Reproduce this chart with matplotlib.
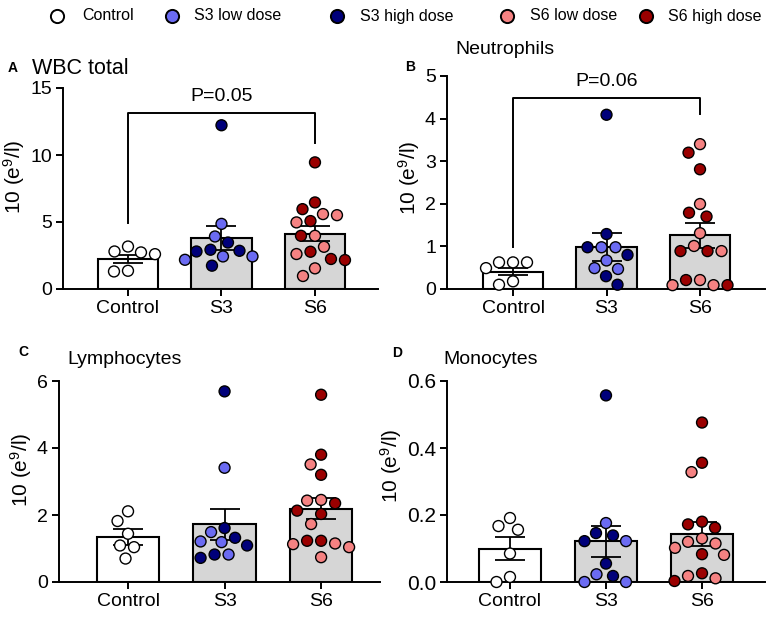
import numpy as np
import matplotlib
matplotlib.use("Agg")
import matplotlib.pyplot as plt

plt.rcParams['font.family'] = ['Liberation Sans', 'DejaVu Sans']
plt.rcParams['mathtext.fontset'] = 'custom'
plt.rcParams['mathtext.rm'] = 'Liberation Sans'
plt.rcParams['mathtext.it'] = 'Liberation Sans:italic'

groups = ["Control", "S3", "S6"]
ylabel = "10 (e$^{9}$/l)"

# ---- A: WBC total
wbc_ctrl = [3.17, 2.80, 2.73, 2.60, 1.36, 1.31]
wbc_s3_low = [4.86, 3.92, 2.43, 2.43, 2.18]
wbc_s3_high = [12.22, 3.47, 2.93, 2.80, 2.85, 1.74]
wbc_s6_low = [5.59, 5.51, 4.97, 3.97, 3.15, 2.61, 1.54, 0.97]
wbc_s6_high = [9.45, 6.46, 5.96, 5.07, 3.97, 2.78, 2.16, 2.24]
wbc_mean = [2.26, 3.79, 4.12]
wbc_sem = [0.30, 0.90, 0.56]
wbc_bracket = [4.9, 13.17, 10.9]   # left leg end, bar height, right leg end
wbc_p = "P=0.05"

# ---- B: Neutrophils
neu_ctrl = [0.625, 0.49, 0.625, 0.625, 0.10, 0.18]
neu_s3_low = [0.98, 0.98, 0.67, 0.47, 0.49]
neu_s3_high = [4.09, 1.29, 0.98, 0.80, 0.30, 0.10]
neu_s6_low = [3.40, 1.995, 1.31, 1.01, 0.89, 0.09, 0.21, 0.09]
neu_s6_high = [3.20, 2.81, 1.79, 1.70, 0.89, 0.89, 0.09, 0.21]
neu_mean = [0.41, 0.98, 1.26]
neu_sem = [0.09, 0.33, 0.30]
neu_bracket = [0.99, 4.49, 4.10]
neu_p = "P=0.06"

# ---- C: Lymphocytes
lym_ctrl = [2.11, 1.82, 1.44, 1.09, 1.04, 0.70]
lym_s3_low = [3.41, 1.49, 1.21, 1.19, 0.82]
lym_s3_high = [5.69, 1.61, 1.32, 1.09, 0.72, 0.82]
lym_s6_low = [3.51, 2.45, 2.43, 1.73, 1.15, 1.04, 1.13, 0.74]
lym_s6_high = [5.59, 3.80, 3.20, 2.35, 2.13, 2.03, 1.23, 1.23]
lym_mean = [1.34, 1.72, 2.19]
lym_sem = [0.23, 0.46, 0.32]

# ---- D: Monocytes
mono_ctrl = [0.167, 0.191, 0.156, 0.085, 0.0, 0.015]
mono_s3_low = [0.176, 0.122, 0.023, 0.0, 0.0]
mono_s3_high = [0.557, 0.146, 0.139, 0.122, 0.055, 0.018]
mono_s6_low = [0.328, 0.130, 0.120, 0.115, 0.102, 0.081, 0.011, 0.018]
mono_s6_high = [0.476, 0.356, 0.172, 0.180, 0.162, 0.083, 0.026, 0.003]
mono_mean = [0.100, 0.121, 0.143]
mono_sem = [0.034, 0.047, 0.035]

c_ctrl = "white"
c_s3_low = "#6b6bf2"
c_s3_high = "#00007a"
c_s6_low = "#f58282"
c_s6_high = "#9a0000"
bar_colors = ["white", "#d6d6d6", "#d6d6d6"]

DIAM = 14.0  # px, min centre distance in swarm


def swarm(ax, xc, values):
    # simple greedy beeswarm in pixel space, returns x positions in data units
    pts = ax.transData.transform([(xc, v) for v in values])
    ys = pts[:, 1]
    x0 = pts[0, 0]
    order = np.argsort(-ys)
    placed = []
    offs = np.zeros(len(values))
    for i in order:
        found = None
        for step in np.arange(0, 200, 0.5):
            cands = [0.0] if step == 0 else [-step, step]
            for c in cands:
                if all((c - px) ** 2 + (ys[i] - py) ** 2 >= DIAM ** 2 for px, py in placed):
                    found = c
                    break
            if found is not None:
                break
        placed.append((found, ys[i]))
        offs[i] = found
    inv = ax.transData.inverted()
    return [inv.transform((x0 + o, y))[0] for o, y in zip(offs, ys)]


def panel(ax, ctrl, s3_low, s3_high, s6_low, s6_high, mean, sem, ymax, yticks, xlim, fmt,
          ytick_size=14):
    x = np.arange(len(groups))
    ax.set_xlim(*xlim)
    ax.set_ylim(0, ymax)
    ax.bar(x, mean, width=0.65, color=bar_colors, edgecolor="black", linewidth=1.5, zorder=2)
    ax.errorbar(x, mean, yerr=sem, fmt="none", ecolor="black", elinewidth=1.3,
                capsize=11, capthick=1.3, zorder=3)
    sets = [
        (0, [ctrl], [c_ctrl]),
        (1, [s3_low, s3_high], [c_s3_low, c_s3_high]),
        (2, [s6_low, s6_high], [c_s6_low, c_s6_high]),
    ]
    for xc, lists, cols in sets:
        vals = [v for l in lists for v in l]
        colors = [c for l, c in zip(lists, cols) for _ in l]
        xs = swarm(ax, xc, vals)
        ax.scatter(xs, vals, s=62, c=colors, edgecolors="black", linewidths=1.0,
                   zorder=4, clip_on=False)
    for s in ["top", "right"]:
        ax.spines[s].set_visible(False)
    for s in ["left", "bottom"]:
        ax.spines[s].set_linewidth(1.4)
    ax.set_xticks(x)
    ax.set_xticklabels(groups)
    ax.set_yticks(yticks)
    ax.set_yticklabels([fmt.format(t) for t in yticks])
    ax.tick_params(direction="out", length=5, width=1.4, labelsize=14, pad=3)
    ax.tick_params(axis="y", labelsize=ytick_size)
    ax.set_ylabel(ylabel, fontsize=15)


def place_ylabel(ax, yfrac, gap_px=3):
    # right edge of the label just left of the tick labels, shifted vertically
    r = fig.canvas.get_renderer()
    left = min(t.get_window_extent(r).x0 for t in ax.get_yticklabels())
    ax_bb = ax.get_window_extent(r)
    xfrac = (left - gap_px - ax_bb.x0) / ax_bb.width
    ax.yaxis.set_label_coords(xfrac, yfrac)


def bracket(ax, br, text):
    ax.plot([0, 0, 2, 2], [br[0], br[1], br[1], br[2]], color="black", lw=1.4,
            clip_on=False, zorder=5)
    ax.text(1, br[1] + (ax.get_ylim()[1]) * 0.035, text, ha="center", va="bottom", fontsize=14)


fig = plt.figure(figsize=(7.7, 6.25), dpi=100)
W, H = 770.0, 625.0


def px_axes(l, t, r, b):
    return fig.add_axes([l / W, 1 - b / H, (r - l) / W, (b - t) / H])


axA = px_axes(63, 88, 378, 289)
axB = px_axes(447, 76, 765, 289)
axC = px_axes(59, 381, 380, 582)
axD = px_axes(447, 381, 765, 582)

panel(axA, wbc_ctrl, wbc_s3_low, wbc_s3_high, wbc_s6_low, wbc_s6_high, wbc_mean, wbc_sem,
      15, [0, 5, 10, 15], (-0.695, 2.674), "{:g}")
panel(axB, neu_ctrl, neu_s3_low, neu_s3_high, neu_s6_low, neu_s6_high, neu_mean, neu_sem,
      5, [0, 1, 2, 3, 4, 5], (-0.706, 2.695), "{:g}")
panel(axC, lym_ctrl, lym_s3_low, lym_s3_high, lym_s6_low, lym_s6_high, lym_mean, lym_sem,
      6, [0, 2, 4, 6], (-0.715, 2.61), "{:g}")
panel(axD, mono_ctrl, mono_s3_low, mono_s3_high, mono_s6_low, mono_s6_high, mono_mean, mono_sem,
      0.6, [0, 0.2, 0.4, 0.6], (-0.656, 2.656), "{:.1f}", ytick_size=15)

bracket(axA, wbc_bracket, wbc_p)
bracket(axB, neu_bracket, neu_p)

fig.canvas.draw()
for ax, yf in [(axA, 0.56), (axB, 0.52), (axC, 0.56), (axD, 0.58)]:
    place_ylabel(ax, yf)

# panel letters and titles
for letter, lx, ly, title, tx, ty, tsize in [
    ("A", 13, 68, "WBC total", 32, 69, 15.5),
    ("B", 410, 67, "Neutrophils", 455, 50, 14),
    ("C", 23, 352, "Lymphocytes", 67, 360, 14),
    ("D", 397, 353, "Monocytes", 443, 360, 14),
]:
    fig.text(lx / W, 1 - ly / H, letter, fontsize=10, fontweight="bold", ha="center", va="center")
    fig.text(tx / W, 1 - ty / H, title, fontsize=tsize, ha="left", va="center")

# legend row
leg = fig.add_axes([0, 1 - 32 / H, 1, 32 / H])
leg.set_xlim(0, W)
leg.set_ylim(32, 0)
leg.axis("off")
leg_labels = ["Control", "S3 low dose", "S3 high dose", "S6 low dose", "S6 high dose"]
leg_colors = [c_ctrl, c_s3_low, c_s3_high, c_s6_low, c_s6_high]
leg_mx = [57, 172, 337, 507, 646]
leg_tx = [82, 194, 360, 530, 668]
for lab, col, mx, tx in zip(leg_labels, leg_colors, leg_mx, leg_tx):
    leg.scatter([mx], [16], s=90, c=col, edgecolors="black", linewidths=1.4, clip_on=False)
    leg.text(tx, 16, lab, fontsize=11.5, ha="left", va="center")

fig.savefig("out.png", dpi=100)
